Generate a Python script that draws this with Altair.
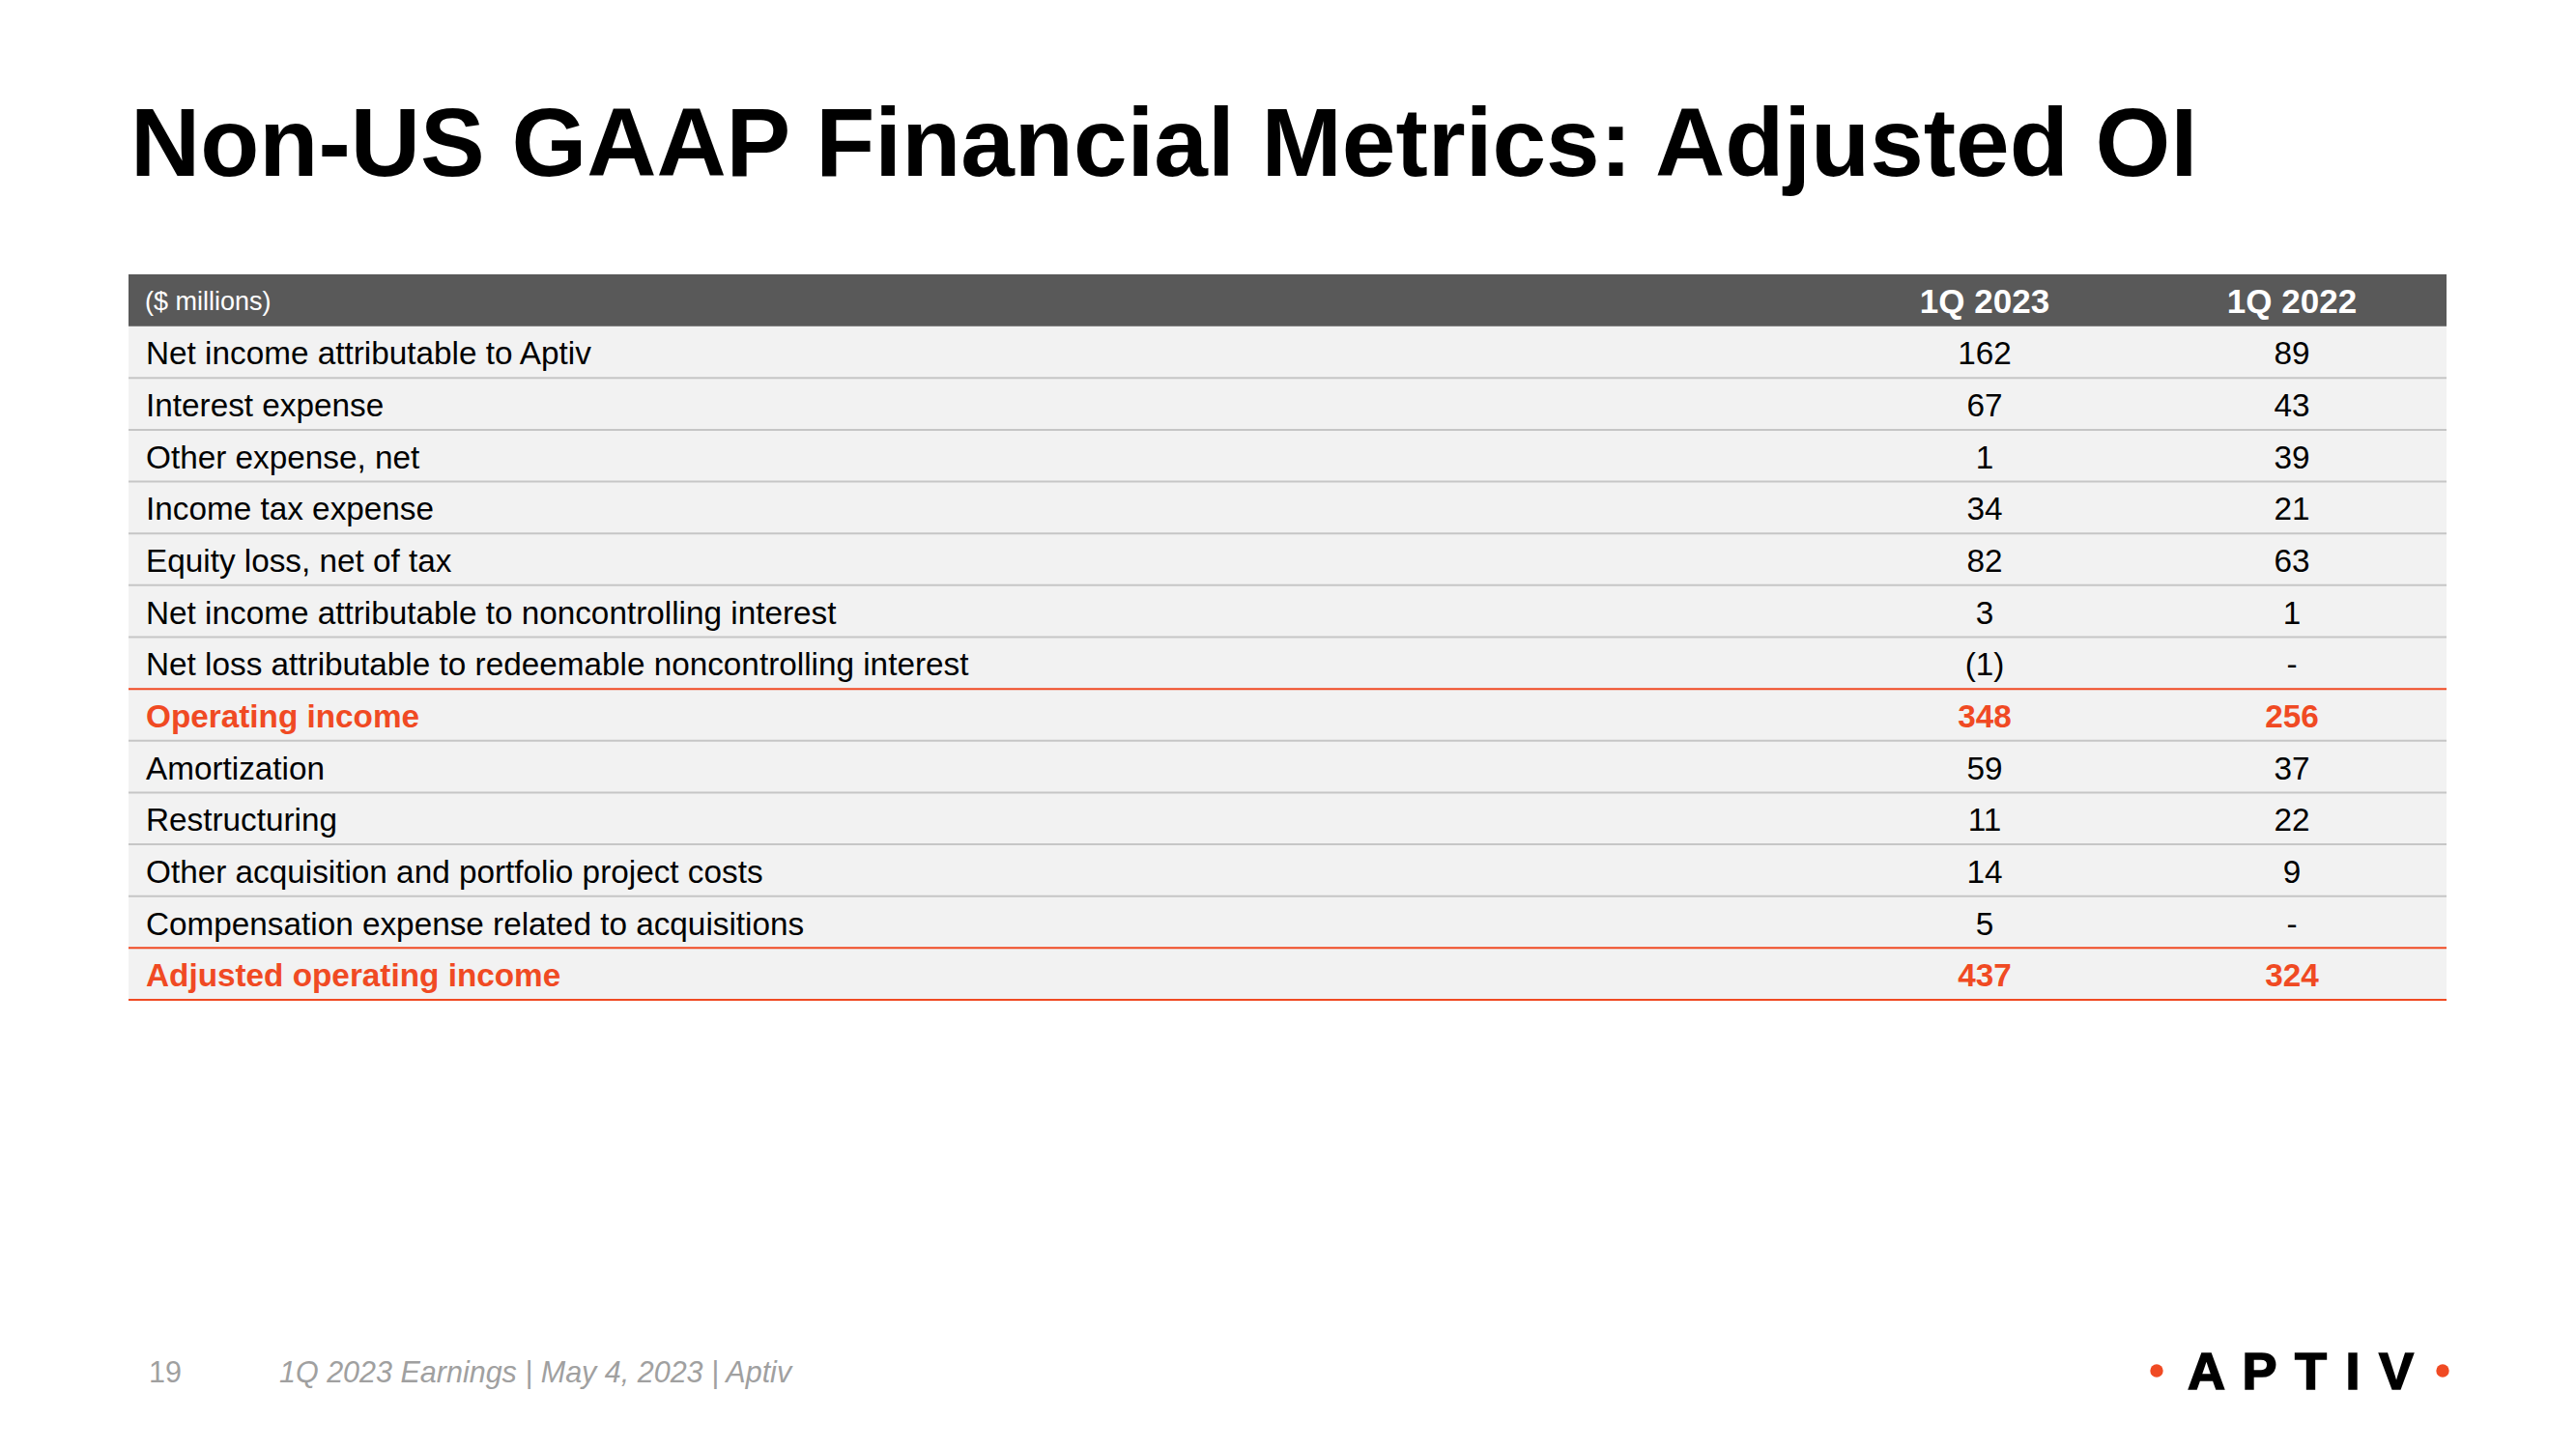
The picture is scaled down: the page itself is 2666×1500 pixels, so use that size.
import altair as alt
import pandas as pd

# ---------------- data ----------------
TITLE = "Non-US GAAP Financial Metrics: Adjusted OI"
UNIT_LABEL = "($ millions)"
PERIODS = ["1Q 2023", "1Q 2022"]
ROW_LABELS = [
    "Net income attributable to Aptiv",
    "Interest expense",
    "Other expense, net",
    "Income tax expense",
    "Equity loss, net of tax",
    "Net income attributable to noncontrolling interest",
    "Net loss attributable to redeemable noncontrolling interest",
    "Operating income",
    "Amortization",
    "Restructuring",
    "Other acquisition and portfolio project costs",
    "Compensation expense related to acquisitions",
    "Adjusted operating income",
]
Q1_2023 = [162, 67, 1, 34, 82, 3, -1, 348, 59, 11, 14, 5, 437]
Q1_2022 = [89, 43, 39, 21, 63, 1, None, 256, 37, 22, 9, None, 324]
SUBTOTALS = ["Operating income", "Adjusted operating income"]
PAGE_NUMBER = "19"
FOOTER = "1Q 2023 Earnings | May 4, 2023 | Aptiv"
LOGO_LETTERS = ["A", "P", "T", "I", "V"]

# ---------------- style / layout ----------------
FONT = "Liberation Sans"
ORANGE = "#F04A23"
HEADER_BG = "#595959"
ROW_BG = "#F2F2F2"
SEP_GRAY = "#C6C6C6"
FOOT_GRAY = "#A0A0A0"
W, H = 2640, 1470
X0, X1 = 125, 2524          # table left / right (chart px)
Y_TOP, Y_BOT = 276, 1027     # header top / table bottom (chart px)
LABEL_X = 143
COL_X = [2046, 2364]


def fmt(v):
    if v is None:
        return "-"
    if v < 0:
        return f"({abs(v)})"
    return str(v)


n = len(ROW_LABELS)
rows = pd.DataFrame({
    "idx": list(range(n)),
    "label": ROW_LABELS,
    "c23": [fmt(v) for v in Q1_2023],
    "c22": [fmt(v) for v in Q1_2022],
    "sub": [lbl in SUBTOTALS for lbl in ROW_LABELS],
})

seps = pd.DataFrame({
    "pos": list(range(1, n + 1)),
    "orange": [(ROW_LABELS[p] in SUBTOTALS) if p < n else True for p in range(1, n + 1)],
})

header = pd.DataFrame({"idx": [-1], "unit": [UNIT_LABEL], "p1": [PERIODS[0]], "p2": [PERIODS[1]]})

yscale = alt.Scale(domain=[-1, n], range=[Y_TOP, Y_BOT], nice=False, zero=False)
Yq = lambda f: alt.Y(f, scale=yscale, axis=None)

base_rows = alt.Chart(rows).transform_calculate(y2="datum.idx + 1", ymid="datum.idx + 0.5")

row_bg = base_rows.mark_rect(color=ROW_BG).encode(
    y=Yq("idx:Q"), y2="y2:Q", x=alt.value(X0), x2=alt.value(X1)
)

base_head = alt.Chart(header).transform_calculate(y2="datum.idx + 1", ymid="datum.idx + 0.5")
head_bg = base_head.mark_rect(color=HEADER_BG).encode(
    y=Yq("idx:Q"), y2="y2:Q", x=alt.value(X0), x2=alt.value(X1)
)
head_unit = base_head.mark_text(align="left", baseline="middle", font=FONT, fontSize=27, color="white", dy=2).encode(
    y=Yq("ymid:Q"), x=alt.value(LABEL_X - 1), text="unit:N"
)
head_p1 = base_head.mark_text(align="center", baseline="middle", font=FONT, fontSize=35, fontWeight="bold",
                              color="white", dy=2).encode(
    y=Yq("ymid:Q"), x=alt.value(COL_X[0]), text="p1:N"
)
head_p2 = base_head.mark_text(align="center", baseline="middle", font=FONT, fontSize=35, fontWeight="bold",
                              color="white", dy=2).encode(
    y=Yq("ymid:Q"), x=alt.value(COL_X[1]), text="p2:N"
)

base_sep = alt.Chart(seps)
sep_gray = base_sep.transform_filter("!datum.orange").mark_rule(color=SEP_GRAY, strokeWidth=2).encode(
    y=Yq("pos:Q"), x=alt.value(X0), x2=alt.value(X1)
)
sep_orange = base_sep.transform_filter("datum.orange").mark_rule(color=ORANGE, strokeWidth=2).encode(
    y=Yq("pos:Q"), x=alt.value(X0), x2=alt.value(X1)
)

normal = base_rows.transform_filter("!datum.sub")
subt = base_rows.transform_filter("datum.sub")


def text_layers(src, color, weight):
    kw = dict(baseline="middle", font=FONT, fontSize=33.3, color=color, fontWeight=weight, dy=3)
    lab = src.mark_text(align="left", **kw).encode(y=Yq("ymid:Q"), x=alt.value(LABEL_X), text="label:N")
    v1 = src.mark_text(align="center", **kw).encode(y=Yq("ymid:Q"), x=alt.value(COL_X[0]), text="c23:N")
    v2 = src.mark_text(align="center", **kw).encode(y=Yq("ymid:Q"), x=alt.value(COL_X[1]), text="c22:N")
    return [lab, v1, v2]


logo_text = " \u200a".join(LOGO_LETTERS)
one = pd.DataFrame({"t": [TITLE], "pg": [PAGE_NUMBER], "ft": [FOOTER], "logo": [logo_text]})
title = alt.Chart(one).mark_text(align="left", baseline="alphabetic", font=FONT, fontSize=100,
                                 fontWeight="bold", color="black").encode(
    x=alt.value(127), y=alt.value(174), text="t:N")
page = alt.Chart(one).mark_text(align="left", baseline="alphabetic", font=FONT, fontSize=30.5,
                                color=FOOT_GRAY).encode(x=alt.value(146), y=alt.value(1423), text="pg:N")
foot = alt.Chart(one).mark_text(align="left", baseline="alphabetic", font=FONT, fontSize=30.5,
                                fontStyle="italic", color=FOOT_GRAY).encode(x=alt.value(281), y=alt.value(1423), text="ft:N")
logo = alt.Chart(one).mark_text(align="center", baseline="alphabetic", font=FONT, fontSize=54,
                                fontWeight="bold", color="black", stroke="black", strokeWidth=1.6).encode(
    x=alt.value(2373), y=alt.value(1430), text="logo:N")
dot_l = alt.Chart(one).mark_circle(color=ORANGE, opacity=1, size=180).encode(x=alt.value(2224), y=alt.value(1411))
dot_r = alt.Chart(one).mark_circle(color=ORANGE, opacity=1, size=180).encode(x=alt.value(2520), y=alt.value(1411))

layers = [row_bg, head_bg, sep_gray, sep_orange, head_unit, head_p1, head_p2]
layers += text_layers(normal, "black", "normal")
layers += text_layers(subt, ORANGE, "bold")
layers += [title, page, foot, logo, dot_l, dot_r]

chart = alt.layer(*layers).properties(
    width=W, height=H, autosize=alt.AutoSizeParams(type="none"), padding=0, background="white"
).configure_view(stroke=None)

chart.save("out.html", embed_options={"renderer": "svg", "actions": False})
